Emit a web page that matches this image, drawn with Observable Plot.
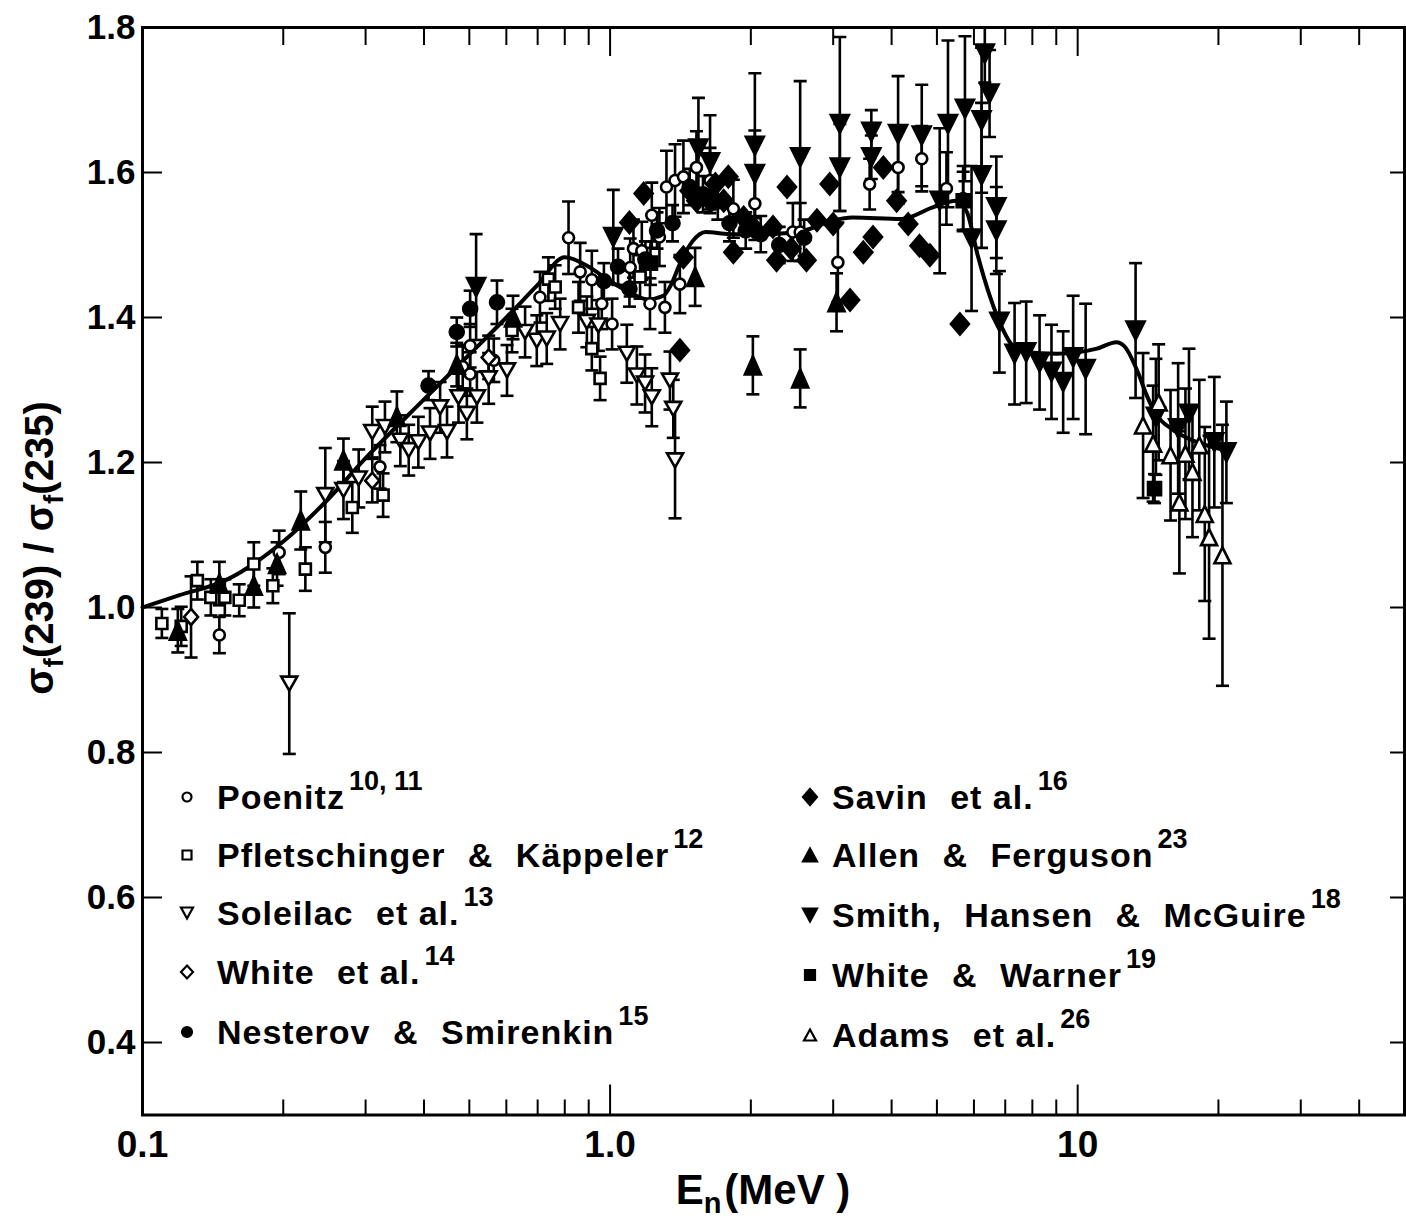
<!DOCTYPE html>
<html>
<head>
<meta charset="utf-8">
<script src="https://cdn.jsdelivr.net/npm/d3@7"></script>
<script src="https://cdn.jsdelivr.net/npm/@observablehq/plot@0.6"></script>
<style>
  html, body { margin: 0; padding: 0; background: #fff; overflow: hidden; }
  #chart { position: relative; width: 1406px; height: 1223px; font-family: "Liberation Sans", Arial, sans-serif; color: #000; }
  .key { position: absolute; font-weight: bold; font-size: 34px; letter-spacing: 1px; word-spacing: 12px;
         white-space: nowrap; line-height: 40px; height: 40px; }
  .key .tight { word-spacing: 0; }
  .key sup { font-size: 27px; vertical-align: 0; position: relative; top: -19px; margin-left: 4px;
             letter-spacing: 0; word-spacing: 0; }
  .keysym { position: absolute; overflow: visible; }
</style>
</head>
<body>
<div id="chart"></div>
<script>
// Fission cross-section ratio sigma_f(239)/sigma_f(235) versus neutron energy.
// Each row: [energy (MeV), ratio, error half-width]

const poenitz = [
  [0.146, 0.962, 0.025], [0.196, 1.076, 0.030], [0.246, 1.083, 0.035], [0.322, 1.194, 0.030],
  [0.484, 1.332, 0.030], [0.502, 1.322, 0.030], [0.502, 1.361, 0.030], [0.564, 1.341, 0.030],
  [0.708, 1.428, 0.035], [0.815, 1.510, 0.050], [0.863, 1.463, 0.040], [0.914, 1.452, 0.040],
  [0.960, 1.419, 0.035], [1.01, 1.391, 0.035], [1.104, 1.469, 0.040], [1.122, 1.495, 0.040],
  [1.169, 1.492, 0.040], [1.228, 1.541, 0.045], [1.217, 1.419, 0.035], [1.31, 1.414, 0.035],
  [1.41, 1.446, 0.040], [1.32, 1.580, 0.050], [1.377, 1.589, 0.050], [1.435, 1.594, 0.050],
  [1.53, 1.607, 0.050], [1.636, 1.589, 0.045], [1.275, 1.511, 0.040], [1.835, 1.550, 0.040],
  [2.04, 1.557, 0.050], [2.46, 1.518, 0.040], [2.55, 1.518, 0.040], [3.07, 1.476, 0.055],
  [3.59, 1.584, 0.035], [4.13, 1.607, 0.050], [4.64, 1.619, 0.045], [5.24, 1.578, 0.050],
  [5.69, 1.564, 0.045]
];

const pfletschinger = [
  [0.110, 0.978, 0.020], [0.121, 0.974, 0.027], [0.131, 1.037, 0.026], [0.140, 1.014, 0.025],
  [0.150, 1.014, 0.025], [0.161, 1.010, 0.022], [0.173, 1.060, 0.030], [0.190, 1.030, 0.024],
  [0.223, 1.053, 0.030], [0.281, 1.138, 0.035], [0.327, 1.155, 0.030], [0.617, 1.382, 0.030],
  [0.738, 1.453, 0.030], [0.763, 1.442, 0.030], [0.856, 1.414, 0.035], [0.914, 1.357, 0.030],
  [0.952, 1.316, 0.030], [1.159, 1.456, 0.030]
];

const soleilac = [
  [0.206, 0.895, 0.097], [0.246, 1.155, 0.065], [0.269, 1.162, 0.040], [0.290, 1.178, 0.040],
  [0.310, 1.242, 0.035], [0.330, 1.249, 0.035], [0.356, 1.230, 0.035], [0.371, 1.217, 0.035],
  [0.389, 1.228, 0.035], [0.412, 1.240, 0.035], [0.433, 1.276, 0.035], [0.448, 1.242, 0.035],
  [0.474, 1.290, 0.035], [0.494, 1.267, 0.035], [0.519, 1.290, 0.035], [0.550, 1.316, 0.035],
  [0.602, 1.327, 0.035], [0.658, 1.380, 0.035], [0.697, 1.368, 0.035], [0.732, 1.371, 0.035],
  [0.782, 1.391, 0.035], [0.892, 1.394, 0.035], [0.944, 1.389, 0.035], [1.086, 1.350, 0.040],
  [1.141, 1.320, 0.040], [1.188, 1.309, 0.040], [1.228, 1.290, 0.040], [1.343, 1.313, 0.040],
  [1.365, 1.274, 0.040], [1.377, 1.203, 0.080]
];

const whiteEtAl = [
  [0.127, 0.987, 0.056], [0.310, 1.175, 0.030], [0.55, 1.345, 0.030]
];

const nesterov = [
  [0.409, 1.306, 0.020], [0.470, 1.380, 0.020], [0.502, 1.412, 0.025], [0.573, 1.421, 0.030],
  [0.97, 1.450, 0.025], [1.04, 1.470, 0.025], [1.10, 1.440, 0.025], [1.19, 1.480, 0.025],
  [1.26, 1.520, 0.025], [1.36, 1.530, 0.025], [1.48, 1.580, 0.025], [1.58, 1.570, 0.025],
  [1.70, 1.560, 0.025], [1.80, 1.530, 0.025], [1.95, 1.520, 0.025], [2.10, 1.515, 0.025],
  [2.30, 1.500, 0.025], [2.60, 1.510, 0.025]
];

const savin = [
  [1.10, 1.531, 0], [1.18, 1.571, 0], [1.41, 1.355, 0], [1.435, 1.483, 0], [1.48, 1.575, 0],
  [1.53, 1.561, 0], [1.64, 1.560, 0], [1.68, 1.584, 0], [1.75, 1.561, 0], [1.79, 1.594, 0],
  [1.835, 1.490, 0], [1.93, 1.538, 0], [2.02, 1.525, 0], [2.23, 1.525, 0], [2.27, 1.479, 0],
  [2.39, 1.580, 0], [2.44, 1.495, 0], [2.63, 1.479, 0], [2.77, 1.534, 0], [2.95, 1.584, 0],
  [3.00, 1.529, 0], [3.26, 1.424, 0], [3.48, 1.490, 0], [3.65, 1.511, 0], [3.84, 1.607, 0],
  [4.10, 1.561, 0], [4.34, 1.529, 0], [4.59, 1.499, 0], [4.83, 1.486, 0], [5.60, 1.391, 0]
];

const allen = [
  [0.119, 0.968, 0.030], [0.146, 1.033, 0.030], [0.173, 1.030, 0.030], [0.194, 1.060, 0.030],
  [0.218, 1.120, 0.040], [0.269, 1.203, 0.030], [0.350, 1.263, 0.035], [0.47, 1.335, 0.030],
  [0.62, 1.400, 0.030], [1.52, 1.456, 0.040], [2.02, 1.334, 0.040], [2.55, 1.316, 0.040],
  [3.05, 1.421, 0.040]
];

const smith = [
  [0.517, 1.442, 0.073], [1.016, 1.511, 0.065], [1.545, 1.633, 0.070], [1.636, 1.614, 0.065],
  [2.04, 1.637, 0.100], [2.04, 1.598, 0.060], [2.55, 1.621, 0.105], [3.10, 1.667, 0.120],
  [3.10, 1.607, 0.060], [3.62, 1.656, 0.030], [3.62, 1.621, 0.030], [4.13, 1.653, 0.080],
  [4.64, 1.651, 0.070], [5.07, 1.561, 0.100], [5.28, 1.667, 0.115], [5.74, 1.688, 0.100],
  [5.93, 1.509, 0.100], [6.23, 1.672, 0.100], [6.23, 1.596, 0.100], [6.33, 1.764, 0.040],
  [6.48, 1.709, 0.060], [6.70, 1.552, 0.070], [6.70, 1.520, 0.060], [6.80, 1.394, 0.070],
  [7.33, 1.350, 0.070], [7.76, 1.352, 0.070], [8.29, 1.338, 0.065], [8.79, 1.325, 0.065],
  [9.31, 1.311, 0.070], [9.78, 1.345, 0.085], [10.4, 1.329, 0.090], [13.3, 1.382, 0.093],
  [14.7, 1.263, 0.080], [16.4, 1.247, 0.090], [17.3, 1.267, 0.090], [19.6, 1.228, 0.090],
  [20.8, 1.214, 0.070]
];

const whiteWarner = [
  [1.22, 1.475, 0.030], [5.69, 1.561, 0.040], [14.6, 1.164, 0.020]
];

const adams = [
  [13.8, 1.251, 0.100], [14.5, 1.226, 0.080], [14.9, 1.283, 0.080], [15.8, 1.210, 0.090],
  [16.5, 1.145, 0.098], [17.0, 1.212, 0.090], [17.6, 1.187, 0.090], [18.2, 1.224, 0.090],
  [18.7, 1.129, 0.120], [19.1, 1.097, 0.140], [20.4, 1.072, 0.180]
];

// Evaluated ratio curve
const curveE = [0.1, 0.12, 0.15, 0.2, 0.25, 0.3, 0.4, 0.5, 0.6, 0.7, 0.8, 0.9, 1.0, 1.1, 1.2, 1.3, 1.35,
  1.41, 1.5, 1.6, 1.8, 2.2, 2.6, 3.0, 3.3, 4.2, 4.9, 5.5, 5.8, 6.1, 6.5, 6.9, 7.2, 7.8, 9, 11, 12.1,
  12.6, 13.5, 14, 14.7, 16, 18, 20.7];
const curveV = [1.0, 1.017, 1.037, 1.091, 1.15, 1.206, 1.287, 1.349, 1.40, 1.445, 1.483, 1.47, 1.45,
  1.435, 1.425, 1.43, 1.445, 1.474, 1.505, 1.518, 1.515, 1.515, 1.52, 1.534, 1.538, 1.536, 1.552,
  1.561, 1.545, 1.488, 1.428, 1.385, 1.364, 1.352, 1.35, 1.357, 1.366, 1.36, 1.322, 1.295, 1.267,
  1.245, 1.228, 1.217];

// Axis ticks
const xLabelTicks = [0.1, 1, 10];
const xLabelText = ["0.1", "1.0", "10"];
const xMajorTicks = [1, 10];
const xMinorTicks = [0.2, 0.3, 0.4, 0.5, 0.6, 0.7, 0.8, 0.9, 2, 3, 4, 5, 6, 7, 8, 9, 20, 30, 40];
const yLabelTicks = [0.4, 0.6, 0.8, 1.0, 1.2, 1.4, 1.6, 1.8];
const yInnerTicks = [0.4, 0.6, 0.8, 1.0, 1.2, 1.4, 1.6];

// Marker shapes (drawn at fixed pixel sizes)
function circleSym(r) { return { draw(c) { c.moveTo(r, 0); c.arc(0, 0, r, 0, 2 * Math.PI); c.closePath(); } }; }
function squareSym(h) { return { draw(c) { c.rect(-h, -h, 2 * h, 2 * h); } }; }
function triSym(w, h, down) {
  const s = down ? -1 : 1;
  return { draw(c) { c.moveTo(0, -s * h); c.lineTo(w, s * h); c.lineTo(-w, s * h); c.closePath(); } };
}
function diamondSym(w, h) {
  return { draw(c) { c.moveTo(0, -h); c.lineTo(w, 0); c.lineTo(0, h); c.lineTo(-w, 0); c.closePath(); } };
}
const capSym = { draw(c) { c.moveTo(-6.5, 0); c.lineTo(6.5, 0); } };

const series = [
  { rows: poenitz,       sym: circleSym(5.5),        key: circleSym(4.5),        fill: "white", label: "Poenitz",                  sup: "10, 11" },
  { rows: pfletschinger, sym: squareSym(5.5),        key: squareSym(4.5),        fill: "white", label: "Pfletschinger & Käppeler", sup: "12" },
  { rows: soleilac,      sym: triSym(8, 7, true),    key: triSym(6, 5.5, true),  fill: "white", label: "Soleilac",                 sup: "13", etal: true },
  { rows: whiteEtAl,     sym: diamondSym(7, 8),      key: diamondSym(6, 6.5),    fill: "white", label: "White",                    sup: "14", etal: true },
  { rows: nesterov,      sym: circleSym(7),          key: circleSym(5),          fill: "black", label: "Nesterov & Smirenkin",     sup: "15" },
  { rows: savin,         sym: diamondSym(9, 10.5),   key: diamondSym(7, 8),      fill: "black", label: "Savin",                    sup: "16", etal: true },
  { rows: allen,         sym: triSym(8, 9, false),   key: triSym(7, 6.5, false), fill: "black", label: "Allen & Ferguson",         sup: "23" },
  { rows: smith,         sym: triSym(9, 9, true),    key: triSym(7, 6.5, true),  fill: "black", label: "Smith, Hansen & McGuire",  sup: "18" },
  { rows: whiteWarner,   sym: squareSym(6.5),        key: squareSym(5),          fill: "black", label: "White & Warner",           sup: "19" },
  { rows: adams,         sym: triSym(8, 8, false),   key: triSym(6, 5.5, false), fill: "white", label: "Adams",                    sup: "26", etal: true }
];

const toRows = arr => arr.map(([E, V, err]) => ({ E, V, err }));
const allRows = series.flatMap(s => toRows(s.rows));
const errRows = allRows.filter(d => d.err > 0);
const curveRows = curveE.map((E, i) => ({ E, V: curveV[i] }));

const FONT = '"Liberation Sans", Arial, sans-serif';
const blank = () => "";

const svg = Plot.plot({
  width: 1406,
  height: 1223,
  marginLeft: 142,
  marginRight: 2,
  marginTop: 27,
  marginBottom: 108.5,
  x: { type: "log", domain: [0.1, 50], label: null },
  y: { domain: [0.3, 1.8], label: null },
  style: { fontFamily: FONT, background: "white", color: "black", overflow: "visible" },
  marks: [
    Plot.line(curveRows, { x: "E", y: "V", curve: "monotone-x", stroke: "black", strokeWidth: 4 }),
    Plot.ruleX(errRows, { x: "E", y1: d => d.V - d.err, y2: d => d.V + d.err, stroke: "black", strokeWidth: 2.6, clip: true }),
    Plot.dot(errRows, { x: "E", y: d => d.V + d.err, symbol: capSym, r: 4, stroke: "black", strokeWidth: 2.6, clip: true }),
    Plot.dot(errRows, { x: "E", y: d => d.V - d.err, symbol: capSym, r: 4, stroke: "black", strokeWidth: 2.6, clip: true }),
    ...series.map(s => Plot.dot(toRows(s.rows), {
      x: "E", y: "V", symbol: s.sym, r: 5, fill: s.fill, stroke: "black", strokeWidth: 2.6
    })),
    Plot.frame({ stroke: "black", strokeWidth: 3 }),
    // tick labels
    Plot.axisX({ ticks: xLabelTicks, anchor: "bottom", tickSize: 0, tickPadding: 16, label: null,
      tickFormat: d => xLabelText[xLabelTicks.indexOf(d)], fontSize: 37, fontWeight: "bold" }),
    Plot.axisY({ ticks: yLabelTicks, anchor: "left", tickSize: 0, tickPadding: 7, label: null,
      tickFormat: d3.format(".1f"), fontSize: 35, fontWeight: "bold" }),
    // inward tick marks on all four sides
    Plot.axisX({ ticks: xMinorTicks, anchor: "bottom", tickSize: -15, tickFormat: blank, label: null, strokeWidth: 2 }),
    Plot.axisX({ ticks: xMajorTicks, anchor: "bottom", tickSize: -30, tickFormat: blank, label: null, strokeWidth: 2 }),
    Plot.axisX({ ticks: xMinorTicks, anchor: "top", tickSize: -17, tickFormat: blank, label: null, strokeWidth: 2 }),
    Plot.axisX({ ticks: xMajorTicks, anchor: "top", tickSize: -28, tickFormat: blank, label: null, strokeWidth: 2 }),
    Plot.axisY({ ticks: yInnerTicks, anchor: "left", tickSize: -20, tickFormat: blank, label: null, strokeWidth: 2 }),
    Plot.axisY({ ticks: yInnerTicks, anchor: "right", tickSize: -15, tickFormat: blank, label: null, strokeWidth: 2 })
  ]
});

const chart = document.getElementById("chart");
chart.appendChild(svg);

// Axis titles with sub-scripts
const s = d3.select(svg);
const yTitle = s.append("text")
  .attr("transform", "translate(53,548) rotate(-90)")
  .attr("text-anchor", "middle")
  .style("font-family", FONT).style("font-weight", "bold").style("font-size", "40px").attr("fill", "black");
yTitle.append("tspan").text("σ");
yTitle.append("tspan").attr("dy", 10).style("font-size", "28px").text("f");
yTitle.append("tspan").attr("dy", -10).text("(239) / σ");
yTitle.append("tspan").attr("dy", 10).style("font-size", "28px").text("f");
yTitle.append("tspan").attr("dy", -10).text("(235)");

const xTitle = s.append("text")
  .attr("x", 763).attr("y", 1204)
  .attr("text-anchor", "middle")
  .style("font-family", FONT).style("font-weight", "bold").style("font-size", "42px").attr("fill", "black");
xTitle.append("tspan").text("E");
xTitle.append("tspan").attr("dy", 9).style("font-size", "29px").text("n");
xTitle.append("tspan").attr("dy", -9).attr("dx", 3).text("(MeV )");

// Key, laid over the lower part of the frame in two columns
const keyCols = [{ symX: 187, textX: 217 }, { symX: 810, textX: 832 }];
const keyRowsY = [[797, 855, 913, 972, 1032], [797, 855, 915, 975, 1035]];
series.forEach((sr, i) => {
  const col = i < 5 ? 0 : 1, row = i % 5;
  const cy = keyRowsY[col][row];
  const ks = d3.create("svg").attr("class", "keysym")
    .attr("width", 24).attr("height", 24)
    .style("left", (keyCols[col].symX - 12) + "px").style("top", (cy - 12) + "px");
  ks.append("path").attr("transform", "translate(12,12)")
    .attr("d", d3.symbol(sr.key, 1)())
    .attr("fill", sr.fill).attr("stroke", "black").attr("stroke-width", 2.2);
  chart.appendChild(ks.node());
  const t = document.createElement("div");
  t.className = "key";
  t.style.left = keyCols[col].textX + "px";
  t.style.top = (cy - 20) + "px";
  t.appendChild(document.createTextNode(sr.etal ? sr.label + " " : sr.label));
  if (sr.etal) {
    const e = document.createElement("span");
    e.className = "tight";
    e.textContent = "et al.";
    t.appendChild(e);
  }
  const sup = document.createElement("sup");
  sup.textContent = sr.sup;
  t.appendChild(sup);
  chart.appendChild(t);
});
</script>
</body>
</html>
